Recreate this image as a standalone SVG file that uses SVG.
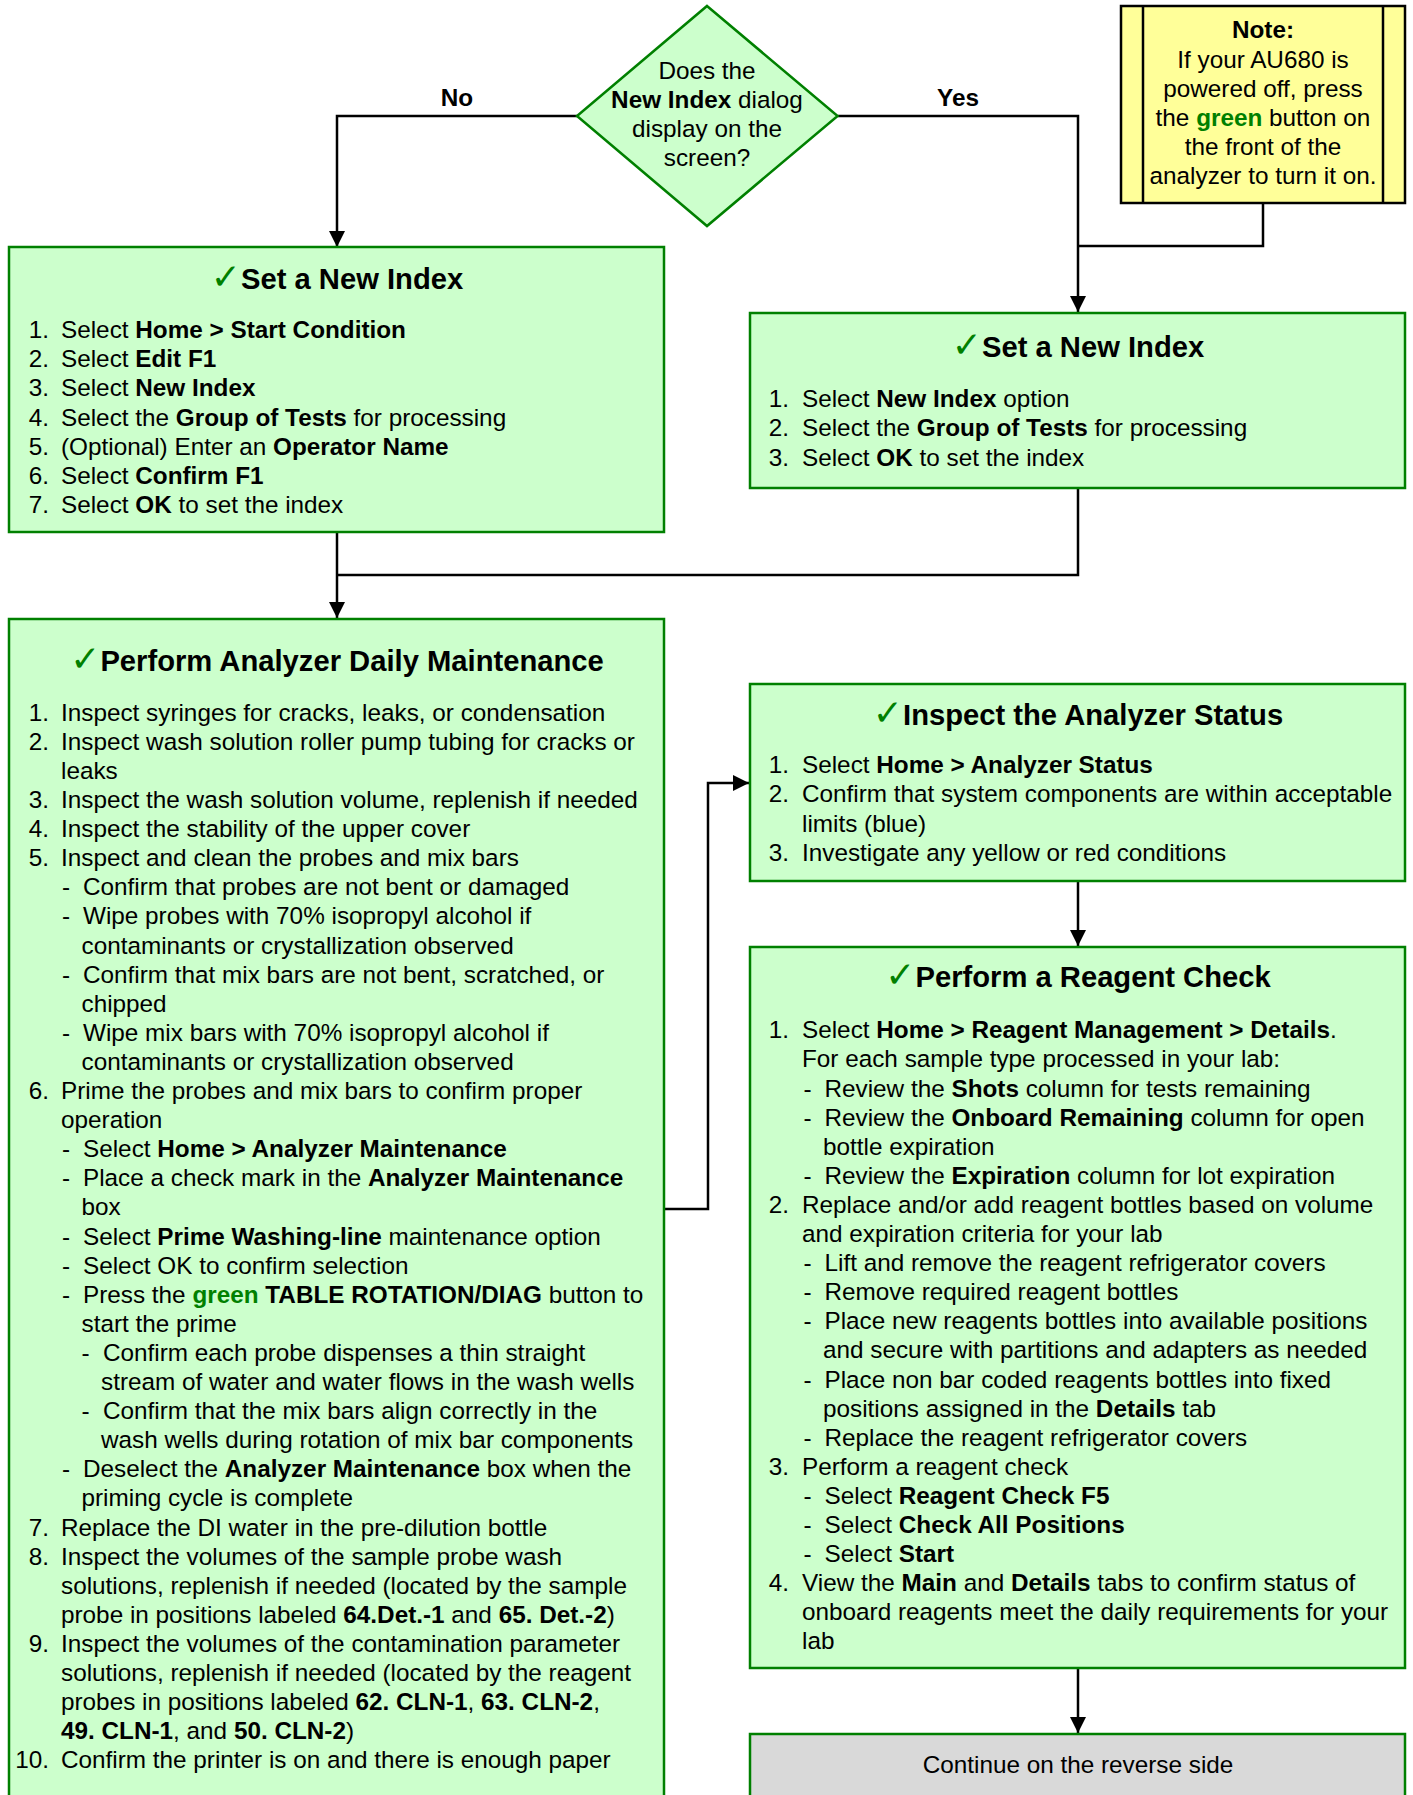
<svg xmlns="http://www.w3.org/2000/svg" width="1413" height="1795" viewBox="0 0 1413 1795">
<style>
text { font-family: "Liberation Sans", Arial, sans-serif; font-size: 24.3px; fill: #000; }
.b { font-weight: bold; }
.h { font-size: 29.2px; font-weight: bold; text-anchor: middle; }
.ck { font-family: "DejaVu Sans", sans-serif; fill: #008000; font-weight: bold; font-size: 36px; }
.g { fill: #008000; font-weight: bold; }
.n { text-anchor: end; }
.c { text-anchor: middle; }
.box { fill: #CCFFCC; stroke: #008000; stroke-width: 2.5; }
.ln { fill: none; stroke: #000; stroke-width: 2.5; }
</style>
<defs>
<marker id="arr" markerUnits="userSpaceOnUse" markerWidth="16" markerHeight="16" refX="16" refY="8" orient="auto">
<path d="M0,0 L16,8 L0,16 z" fill="#000"/>
</marker>
</defs>
<rect width="1413" height="1795" fill="#fff"/>

<g id="connectors">
<path class="ln" d="M577,116 H337 V247" marker-end="url(#arr)"/>
<path class="ln" d="M838,116 H1078 V312" marker-end="url(#arr)"/>
<path class="ln" d="M1263,204 V246 H1078"/>
<path class="ln" d="M337,532 V618" marker-end="url(#arr)"/>
<path class="ln" d="M1078,488 V575 H337"/>
<path class="ln" d="M664,1209 H708 V783 H749" marker-end="url(#arr)"/>
<path class="ln" d="M1078,881 V946" marker-end="url(#arr)"/>
<path class="ln" d="M1078,1668 V1733" marker-end="url(#arr)"/>
<text class="b c" x="457" y="106">No</text>
<text class="b c" x="958" y="106">Yes</text>
</g>

<g id="decision">
<polygon points="707,6 837.6,116 707,226 577,116" class="box"/>
<text class="c" x="707" y="79">Does the</text>
<text class="c" x="707" y="108.3"><tspan class="b">New Index</tspan> dialog</text>
<text class="c" x="707" y="136.7">display on the</text>
<text class="c" x="707" y="165.7">screen?</text>
</g>

<g id="note">
<rect x="1121" y="6" width="284" height="197" fill="#FFFF99" stroke="#000" stroke-width="2.5"/>
<line x1="1143" y1="6" x2="1143" y2="203" stroke="#000" stroke-width="2.5"/>
<line x1="1383" y1="6" x2="1383" y2="203" stroke="#000" stroke-width="2.5"/>
<text class="c b" x="1263" y="38.3">Note:</text>
<text class="c" x="1263" y="67.7">If your AU680 is</text>
<text class="c" x="1263" y="96.7">powered off, press</text>
<text class="c" x="1263" y="126">the <tspan class="g">green</tspan> button on</text>
<text class="c" x="1263" y="155">the front of the</text>
<text class="c" x="1263" y="184">analyzer to turn it on.</text>
</g>

<g id="set-index-no">
<rect x="9" y="247" width="655" height="285" class="box"/>
<text class="h" x="337" y="288.5"><tspan class="ck">✓</tspan>Set a New Index</text>
<text class="n" x="49" y="338.3">1.</text><text x="61" y="338.3">Select <tspan class="b">Home &gt; Start Condition</tspan></text>
<text class="n" x="49" y="367.4">2.</text><text x="61" y="367.4">Select <tspan class="b">Edit F1</tspan></text>
<text class="n" x="49" y="396.4">3.</text><text x="61" y="396.4">Select <tspan class="b">New Index</tspan></text>
<text class="n" x="49" y="425.5">4.</text><text x="61" y="425.5">Select the <tspan class="b">Group of Tests</tspan> for processing</text>
<text class="n" x="49" y="454.6">5.</text><text x="61" y="454.6">(Optional) Enter an <tspan class="b">Operator Name</tspan></text>
<text class="n" x="49" y="483.7">6.</text><text x="61" y="483.7">Select <tspan class="b">Confirm F1</tspan></text>
<text class="n" x="49" y="512.7">7.</text><text x="61" y="512.7">Select <tspan class="b">OK</tspan> to set the index</text>
</g>

<g id="set-index-yes">
<rect x="750" y="313" width="655" height="175" class="box"/>
<text class="h" x="1078" y="357.3"><tspan class="ck">✓</tspan>Set a New Index</text>
<text class="n" x="789" y="407.3">1.</text><text x="802" y="407.3">Select <tspan class="b">New Index</tspan> option</text>
<text class="n" x="789" y="436.4">2.</text><text x="802" y="436.4">Select the <tspan class="b">Group of Tests</tspan> for processing</text>
<text class="n" x="789" y="465.5">3.</text><text x="802" y="465.5">Select <tspan class="b">OK</tspan> to set the index</text>
</g>

<g id="daily-maintenance">
<rect x="9" y="619" width="655" height="1200" class="box"/>
<text class="h" x="337" y="670.7"><tspan class="ck">✓</tspan>Perform Analyzer Daily Maintenance</text>
<text class="n" x="49" y="720.7">1.</text><text x="61" y="720.7">Inspect syringes for cracks, leaks, or condensation</text>
<text class="n" x="49" y="749.8">2.</text><text x="61" y="749.8">Inspect wash solution roller pump tubing for cracks or</text>
<text x="61" y="778.9">leaks</text>
<text class="n" x="49" y="808">3.</text><text x="61" y="808">Inspect the wash solution volume, replenish if needed</text>
<text class="n" x="49" y="837.1">4.</text><text x="61" y="837.1">Inspect the stability of the upper cover</text>
<text class="n" x="49" y="866.2">5.</text><text x="61" y="866.2">Inspect and clean the probes and mix bars</text>
<text x="62" y="895.3">-</text><text x="83" y="895.3">Confirm that probes are not bent or damaged</text>
<text x="62" y="924.4">-</text><text x="83" y="924.4">Wipe probes with 70% isopropyl alcohol if</text>
<text x="81.5" y="953.5">contaminants or crystallization observed</text>
<text x="62" y="982.6">-</text><text x="83" y="982.6">Confirm that mix bars are not bent, scratched, or</text>
<text x="81.5" y="1011.7">chipped</text>
<text x="62" y="1040.8">-</text><text x="83" y="1040.8">Wipe mix bars with 70% isopropyl alcohol if</text>
<text x="81.5" y="1069.9">contaminants or crystallization observed</text>
<text class="n" x="49" y="1099">6.</text><text x="61" y="1099">Prime the probes and mix bars to confirm proper</text>
<text x="61" y="1128.1">operation</text>
<text x="62" y="1157.2">-</text><text x="83" y="1157.2">Select <tspan class="b">Home &gt; Analyzer Maintenance</tspan></text>
<text x="62" y="1186.3">-</text><text x="83" y="1186.3">Place a check mark in the <tspan class="b">Analyzer Maintenance</tspan></text>
<text x="81.5" y="1215.4">box</text>
<text x="62" y="1244.5">-</text><text x="83" y="1244.5">Select <tspan class="b">Prime Washing-line</tspan> maintenance option</text>
<text x="62" y="1273.6">-</text><text x="83" y="1273.6">Select OK to confirm selection</text>
<text x="62" y="1302.7">-</text><text x="83" y="1302.7">Press the <tspan class="g">green</tspan> <tspan class="b">TABLE ROTATION/DIAG</tspan> button to</text>
<text x="81.5" y="1331.8">start the prime</text>
<text x="81.5" y="1360.9">-</text><text x="103" y="1360.9">Confirm each probe dispenses a thin straight</text>
<text x="101" y="1390">stream of water and water flows in the wash wells</text>
<text x="81.5" y="1419.1">-</text><text x="103" y="1419.1">Confirm that the mix bars align correctly in the</text>
<text x="101" y="1448.2">wash wells during rotation of mix bar components</text>
<text x="62" y="1477.3">-</text><text x="83" y="1477.3">Deselect the <tspan class="b">Analyzer Maintenance</tspan> box when the</text>
<text x="81.5" y="1506.4">priming cycle is complete</text>
<text class="n" x="49" y="1535.5">7.</text><text x="61" y="1535.5">Replace the DI water in the pre-dilution bottle</text>
<text class="n" x="49" y="1564.6">8.</text><text x="61" y="1564.6">Inspect the volumes of the sample probe wash</text>
<text x="61" y="1593.7">solutions, replenish if needed (located by the sample</text>
<text x="61" y="1622.8">probe in positions labeled <tspan class="b">64.Det.-1</tspan> and <tspan class="b">65. Det.-2</tspan>)</text>
<text class="n" x="49" y="1651.9">9.</text><text x="61" y="1651.9">Inspect the volumes of the contamination parameter</text>
<text x="61" y="1681">solutions, replenish if needed (located by the reagent</text>
<text x="61" y="1710.1">probes in positions labeled <tspan class="b">62. CLN-1</tspan>, <tspan class="b">63. CLN-2</tspan>,</text>
<text x="61" y="1739.2"><tspan class="b">49. CLN-1</tspan>, and <tspan class="b">50. CLN-2</tspan>)</text>
<text class="n" x="49" y="1768.3">10.</text><text x="61" y="1768.3">Confirm the printer is on and there is enough paper</text>
</g>

<g id="analyzer-status">
<rect x="750" y="684" width="655" height="197" class="box"/>
<text class="h" x="1078" y="725"><tspan class="ck">✓</tspan>Inspect the Analyzer Status</text>
<text class="n" x="789" y="773.3">1.</text><text x="802" y="773.3">Select <tspan class="b">Home &gt; Analyzer Status</tspan></text>
<text class="n" x="789" y="802.4">2.</text><text x="802" y="802.4">Confirm that system components are within acceptable</text>
<text x="802" y="831.5">limits (blue)</text>
<text class="n" x="789" y="860.6">3.</text><text x="802" y="860.6">Investigate any yellow or red conditions</text>
</g>

<g id="reagent-check">
<rect x="750" y="947" width="655" height="721" class="box"/>
<text class="h" x="1078" y="987"><tspan class="ck">✓</tspan>Perform a Reagent Check</text>
<text class="n" x="789" y="1038.3">1.</text><text x="802" y="1038.3">Select <tspan class="b">Home &gt; Reagent Management &gt; Details</tspan>.</text>
<text x="802" y="1067.4">For each sample type processed in your lab:</text>
<text x="803.5" y="1096.5">-</text><text x="824.5" y="1096.5">Review the <tspan class="b">Shots</tspan> column for tests remaining</text>
<text x="803.5" y="1125.6">-</text><text x="824.5" y="1125.6">Review the <tspan class="b">Onboard Remaining</tspan> column for open</text>
<text x="823" y="1154.7">bottle expiration</text>
<text x="803.5" y="1183.8">-</text><text x="824.5" y="1183.8">Review the <tspan class="b">Expiration</tspan> column for lot expiration</text>
<text class="n" x="789" y="1212.9">2.</text><text x="802" y="1212.9">Replace and/or add reagent bottles based on volume</text>
<text x="802" y="1242">and expiration criteria for your lab</text>
<text x="803.5" y="1271.1">-</text><text x="824.5" y="1271.1">Lift and remove the reagent refrigerator covers</text>
<text x="803.5" y="1300.2">-</text><text x="824.5" y="1300.2">Remove required reagent bottles</text>
<text x="803.5" y="1329.3">-</text><text x="824.5" y="1329.3">Place new reagents bottles into available positions</text>
<text x="823" y="1358.4">and secure with partitions and adapters as needed</text>
<text x="803.5" y="1387.5">-</text><text x="824.5" y="1387.5">Place non bar coded reagents bottles into fixed</text>
<text x="823" y="1416.6">positions assigned in the <tspan class="b">Details</tspan> tab</text>
<text x="803.5" y="1445.7">-</text><text x="824.5" y="1445.7">Replace the reagent refrigerator covers</text>
<text class="n" x="789" y="1474.8">3.</text><text x="802" y="1474.8">Perform a reagent check</text>
<text x="803.5" y="1503.9">-</text><text x="824.5" y="1503.9">Select <tspan class="b">Reagent Check F5</tspan></text>
<text x="803.5" y="1533">-</text><text x="824.5" y="1533">Select <tspan class="b">Check All Positions</tspan></text>
<text x="803.5" y="1562.1">-</text><text x="824.5" y="1562.1">Select <tspan class="b">Start</tspan></text>
<text class="n" x="789" y="1591.2">4.</text><text x="802" y="1591.2">View the <tspan class="b">Main</tspan> and <tspan class="b">Details</tspan> tabs to confirm status of</text>
<text x="802" y="1620.3">onboard reagents meet the daily requirements for your</text>
<text x="802" y="1649.4">lab</text>
</g>

<g id="continue">
<rect x="750" y="1734" width="655" height="90" fill="#D9D9D9" stroke="#008000" stroke-width="2.5"/>
<text class="c" x="1078" y="1773.3">Continue on the reverse side</text>
</g>
</svg>
